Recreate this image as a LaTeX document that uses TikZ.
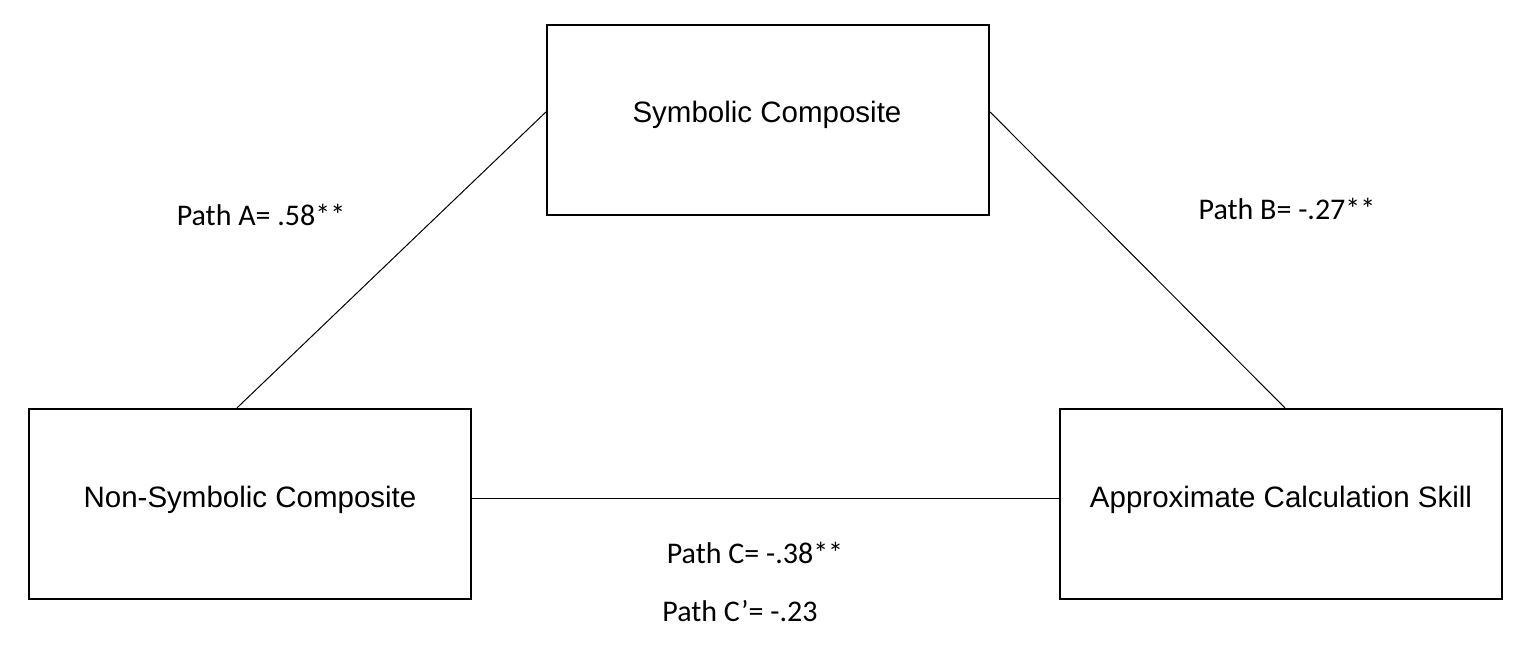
\documentclass[tikz,border=0pt]{standalone}
\usepackage{fontspec}
\setmainfont{Liberation Sans}
\newfontfamily\labfont{Carlito}
\begin{document}
\begin{tikzpicture}[x=1pt,y=-1pt,
  box/.style={draw=black,line width=2.2pt,minimum width=442pt,minimum height=190pt,inner sep=0pt},
  boxtext/.style={font=\fontsize{29.5}{33}\selectfont,inner sep=0pt},
  pathlab/.style={font=\labfont\fontsize{30}{34}\selectfont,inner sep=0pt},
  conn/.style={draw=black,line width=1pt}]
\useasboundingbox (0,0) rectangle (1535,664);
\node[box] (sym) at (768,120) {};
\node[box] (non) at (250,504) {};
\node[box] (app) at (1281,504) {};
\node[boxtext] (symt) at (767,115) {Symbolic Composite};
\node[boxtext] (nont) at (250,500) {Non-Symbolic Composite};
\node[boxtext] (appt) at (1281,500) {Approximate Calculation Skill};
\draw[conn] ([yshift=8pt]sym.west) -- ([xshift=-13pt]non.north);
\draw[conn] ([yshift=8pt]sym.east) -- ([xshift=4pt]app.north);
\draw[conn] ([yshift=6pt]non.east) -- ([yshift=6pt]app.west);
\node[pathlab] (pa) at (261,215) {Path A= .58**};
\node[pathlab] (pb) at (1287,209) {Path B= -.27**};
\node[pathlab] (pc) at (755,553) {Path C= -.38**};
\node[pathlab] (pcp) at (740,611) {Path C’= -.23};
\end{tikzpicture}
\end{document}
